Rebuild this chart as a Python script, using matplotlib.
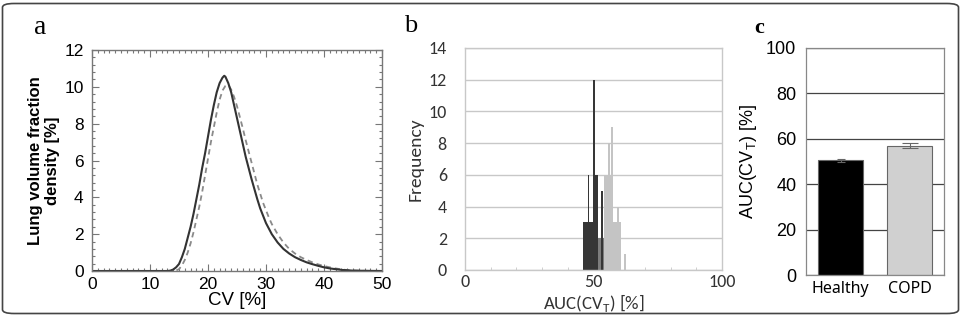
import matplotlib
matplotlib.use("Agg")
import matplotlib.pyplot as plt
import numpy as np
from matplotlib.patches import FancyBboxPatch
from matplotlib.ticker import MultipleLocator

plt.rcParams["font.family"] = ["Liberation Sans", "DejaVu Sans"]
plt.rcParams["mathtext.fontset"] = "custom"
plt.rcParams["mathtext.rm"] = "Liberation Sans"
plt.rcParams["mathtext.it"] = "Liberation Sans"

# ---------------- data ----------------
# panel a: lung volume fraction density curves
healthy_cv = [0, 10, 13.0, 13.5, 14.0, 14.5, 15.0, 15.5, 16.0, 16.5, 17.0, 17.5, 18.0, 18.5,
              19.0, 19.5, 20.0, 20.5, 21.0, 21.5, 22.0, 22.5, 22.8, 23.0, 23.5, 24.0, 24.5,
              25.0, 25.5, 26.0, 26.5, 27.0, 27.5, 28.0, 28.5, 29.0, 29.5, 30.0, 30.5, 31.0,
              32.0, 33.0, 34.0, 35.0, 36.0, 37.0, 38.0, 39.0, 40.0, 41.0, 42.0, 43.0, 44.0,
              45.0, 47.0, 50.0]
healthy_density = [0, 0, 0, 0.02, 0.08, 0.2, 0.38, 0.75, 1.2, 1.8, 2.4, 3.1, 3.9, 4.7,
                   5.6, 6.4, 7.3, 8.2, 9.0, 9.7, 10.2, 10.5, 10.6, 10.55, 10.2, 9.7, 9.0,
                   8.3, 7.6, 6.9, 6.2, 5.6, 5.0, 4.45, 3.9, 3.4, 3.0, 2.6, 2.3, 2.0,
                   1.55, 1.2, 0.95, 0.75, 0.6, 0.47, 0.37, 0.28, 0.2, 0.14, 0.1, 0.06, 0.04,
                   0.02, 0.01, 0]
copd_cv = [0, 10, 14.0, 14.5, 15.0, 15.5, 16.0, 16.5, 17.0, 17.5, 18.0, 18.5, 19.0, 19.5,
           20.0, 20.5, 21.0, 21.5, 22.0, 22.5, 23.0, 23.3, 23.6, 24.0, 24.5, 25.0, 25.5,
           26.0, 26.5, 27.0, 27.5, 28.0, 28.5, 29.0, 29.5, 30.0, 30.5, 31.0, 32.0, 33.0,
           34.0, 35.0, 36.0, 37.0, 38.0, 39.0, 40.0, 41.0, 42.0, 43.0, 44.0, 45.0, 47.0, 50.0]
copd_density = [0, 0, 0, 0.03, 0.1, 0.3, 0.6, 1.0, 1.5, 2.1, 2.8, 3.5, 4.3, 5.2,
                6.1, 7.0, 7.8, 8.6, 9.3, 9.8, 10.05, 10.1, 10.05, 9.85, 9.45, 8.95, 8.35,
                7.75, 7.1, 6.5, 5.9, 5.3, 4.7, 4.2, 3.7, 3.3, 2.9, 2.55, 2.0, 1.55,
                1.2, 0.95, 0.75, 0.6, 0.47, 0.36, 0.27, 0.2, 0.14, 0.09, 0.05, 0.03, 0.01, 0]

# panel b: histogram bars (left edge, width, count)
healthy_left = [45.8, 47.7, 49.9, 50.2, 52.9]
healthy_width = [4.4, 0.7, 0.7, 1.6, 0.7]
healthy_count = [3, 6, 12, 6, 5]
overlap_left = [51.8]
overlap_width = [2.1]
overlap_count = [2]
copd_left = [53.9, 55.6, 57.0, 57.7, 59.1, 62.0]
copd_width = [3.8, 0.7, 0.7, 3.0, 0.7, 0.7]
copd_count = [6, 8, 9, 3, 4, 1]

# panel c: mean AUC with error
groups = ["Healthy", "COPD"]
auc_mean = [50.5, 57.0]
auc_err = [0.7, 1.2]

# ---------------- figure ----------------
W, H = 967, 316
fig = plt.figure(figsize=(W / 100, H / 100), dpi=100)

frame = FancyBboxPatch((2.5 / W, 2.5 / H), (956 / W), (310 / H),
                       boxstyle="round,pad=0,rounding_size=0.012",
                       transform=fig.transFigure, fill=False,
                       edgecolor="#444444", linewidth=1.2)
fig.patches.append(frame)

def fpos(l, r, t, b):
    return [l / W, 1 - b / H, (r - l) / W, (b - t) / H]

# ---------- panel a ----------
axa = fig.add_axes(fpos(92, 382, 50, 271))
axa.plot(copd_cv, copd_density, color="#8a8a8a", lw=1.3, ls=(0, (3, 2.2)))
axa.plot(healthy_cv, healthy_density, color="#333333", lw=1.5)
axa.set_xlim(0, 50)
axa.set_ylim(0, 12)
axa.xaxis.set_major_locator(MultipleLocator(10))
axa.xaxis.set_minor_locator(MultipleLocator(1))
axa.yaxis.set_major_locator(MultipleLocator(2))
axa.yaxis.set_minor_locator(MultipleLocator(0.4))
axa.tick_params(which="both", direction="in", top=True, right=True, color="#777777", width=0.8)
axa.tick_params(which="major", length=5, labelsize=12.5)
axa.tick_params(axis="y", which="major", pad=6)
axa.tick_params(axis="x", which="major", pad=4)
axa.tick_params(which="minor", length=2.5)
for s in axa.spines.values():
    s.set_color("#777777")
    s.set_linewidth(1.0)
axa.set_xlabel("CV [%]", fontsize=13.5, labelpad=0)
axa.set_ylabel("Lung volume fraction\ndensity [%]", fontsize=12, fontweight="bold",
               labelpad=3, linespacing=1.15)

# ---------- panel b ----------
CAL = ["Carlito", "DejaVu Sans"]
axb = fig.add_axes(fpos(465, 722, 48, 270))
axb.set_axisbelow(True)
axb.bar(copd_left, copd_count, width=copd_width, align="edge", color="#c4c4c4", edgecolor="none")
axb.bar(overlap_left, overlap_count, width=overlap_width, align="edge", color="#7d7d7d", edgecolor="none")
axb.bar(healthy_left, healthy_count, width=healthy_width, align="edge", color="#363636", edgecolor="none")
axb.set_xlim(0, 100)
axb.set_ylim(0, 14)
axb.set_xticks([0, 50, 100])
axb.xaxis.set_minor_locator(MultipleLocator(10))
axb.set_yticks(range(0, 15, 2))
axb.yaxis.grid(True, color="#c8c8c8", lw=1.0)
for s in axb.spines.values():
    s.set_color("#c8c8c8")
    s.set_linewidth(1.0)
axb.tick_params(axis="y", length=0, labelsize=13, pad=13, labelcolor="#333333")
axb.tick_params(axis="x", which="major", length=0, labelsize=13, pad=3, labelcolor="#333333")
axb.tick_params(axis="x", which="minor", direction="in", length=2, color="#c8c8c8")
for lab in axb.get_xticklabels() + axb.get_yticklabels():
    lab.set_fontfamily(CAL)
axb.set_ylabel("Frequency", fontsize=14, family=CAL, labelpad=4, color="#333333")
axb.set_xlabel("AUC(CV$_\\mathregular{T}$) [%]", fontsize=13.5, family=CAL, labelpad=1,
               color="#333333")

# ---------- panel c ----------
axc = fig.add_axes(fpos(806, 944, 48, 275))
axc.set_axisbelow(True)
xc = np.arange(len(groups))
colors_c = ["#000000", "#d0d0d0"]
axc.bar(xc, auc_mean, width=0.65, color=colors_c, edgecolor="#666666", linewidth=0.8)
cap_sizes = [3, 6]
for xi, m, e, cs in zip(xc, auc_mean, auc_err, cap_sizes):
    axc.errorbar([xi], [m], yerr=[e], fmt="none", ecolor="#666666", elinewidth=0.8,
                 capsize=cs, capthick=0.8)
axc.set_xlim(-0.5, 1.5)
axc.set_ylim(0, 100)
axc.set_yticks(range(0, 101, 20))
axc.set_xticks(xc)
axc.set_xticklabels(groups, fontsize=11.5, family=["Noto Sans", "DejaVu Sans"])
axc.yaxis.grid(True, color="#444444", lw=0.9)
for s in axc.spines.values():
    s.set_color("#888888")
    s.set_linewidth(0.9)
axc.tick_params(axis="y", length=0, labelsize=13, pad=7)
axc.tick_params(axis="x", length=0, pad=4)
axc.set_ylabel("AUC(CV$_\\mathregular{T}$) [%]", fontsize=13, labelpad=5)

# panel letters
SER = ["Liberation Serif", "DejaVu Serif"]
fig.text(40 / W, 1 - 28 / H, "a", fontsize=20, family=SER, ha="center", va="center")
fig.text(411 / W, 1 - 26 / H, "b", fontsize=19, family=SER, ha="center", va="center")
fig.text(759 / W, 1 - 28 / H, "c", fontsize=16, family=SER, fontweight="bold",
         ha="center", va="center")

fig.savefig("out.png", dpi=100)
